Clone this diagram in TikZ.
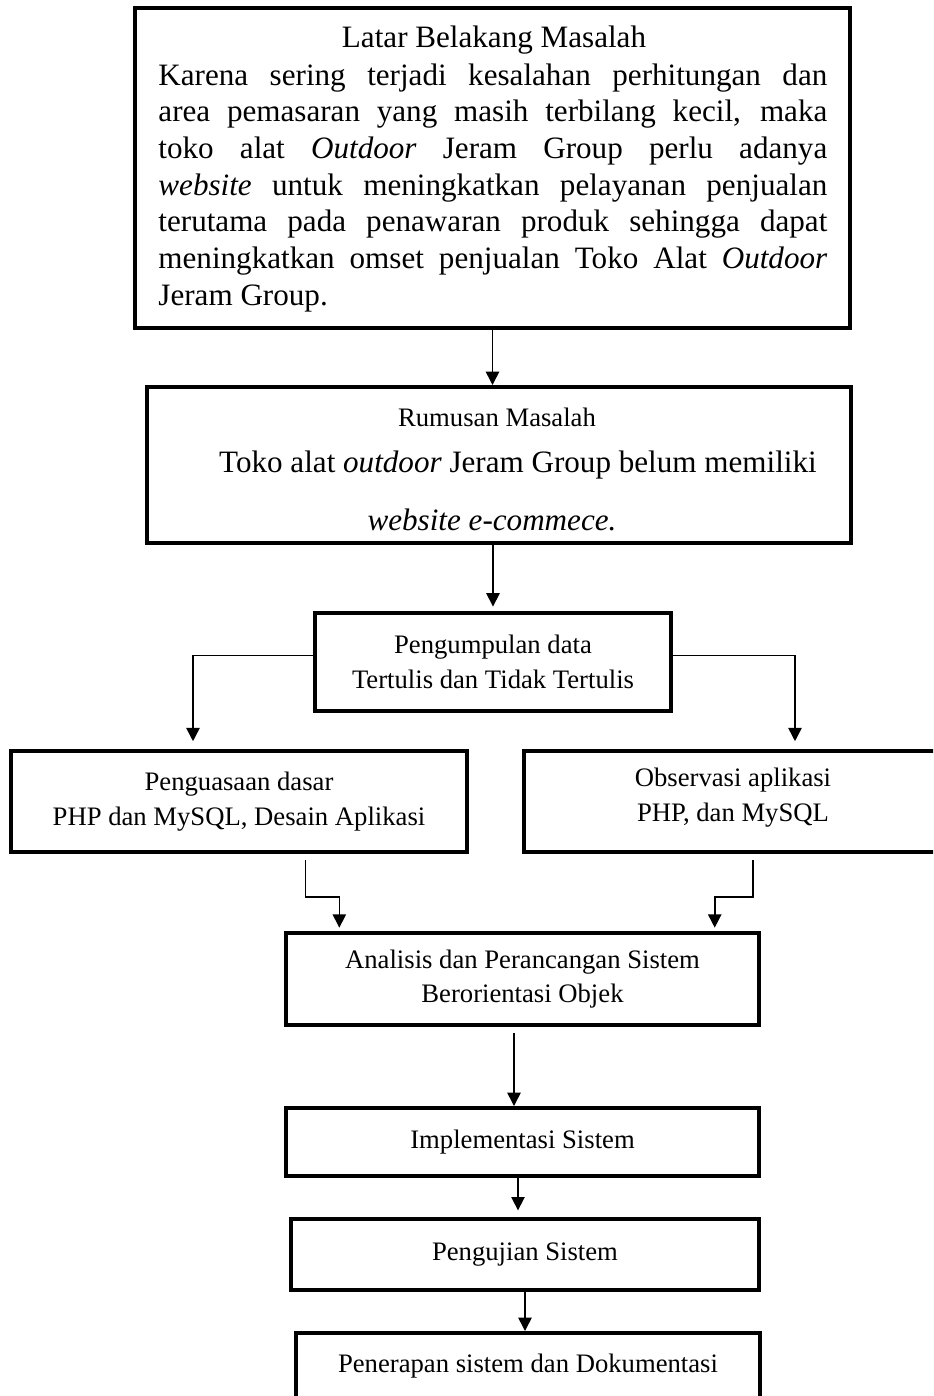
\documentclass[tikz,border=0pt]{standalone}
\usepackage{fontspec}
\setmainfont{Liberation Serif}
\usetikzlibrary{arrows.meta,calc}
\tikzset{
  kotak/.style={draw, line width=1.8pt, inner sep=0pt, align=center,
    font=\fontsize{12}{15.5}\selectfont},
  ukuran/.style 2 args={minimum width=#1*0.45pt, minimum height=#2*0.45pt},
  panah/.style={-{Triangle[width=6pt,length=6pt]}, line width=0.7pt},
  teks/.style={inner sep=0pt},
}

\begin{document}
\begin{tikzpicture}[x=0.45pt,y=-0.45pt]
\path[use as bounding box] (0,0) rectangle (933,1396);
\clip (0,0) rectangle (933,1396);

% kotak
\node[kotak, ukuran={715}{320}] (latar) at (492.5,168) {};
\node[kotak, ukuran={704}{156}] (rumusan) at (499,465) {};
\node[kotak, ukuran={356}{98}] (kumpul) at (493,662) {Pengumpulan data\\Tertulis dan Tidak Tertulis};
\node[kotak, ukuran={456}{101}] (kuasa) at (239,801.5) {Penguasaan dasar\\PHP dan MySQL, Desain Aplikasi};
\node[kotak, ukuran={416}{101}] (observasi) at (732,801.5) {};
\node[teks, font=\fontsize{12}{15.5}\selectfont, align=center] (observasiteks) at (733,797.5) {Observasi aplikasi\\PHP, dan MySQL};
\node[kotak, ukuran={473}{92}] (analisis) at (522.5,979) {Analisis dan Perancangan Sistem\\Berorientasi Objek};
\node[kotak, ukuran={473}{68}] (implementasi) at (522.5,1142) {Implementasi Sistem};
\node[kotak, ukuran={468}{71}] (pengujian) at (525,1254.5) {Pengujian Sistem};
\node[kotak, ukuran={464}{67}] (penerapan) at (528,1366.5) {Penerapan sistem dan Dokumentasi};

% teks latar belakang
\node[teks, font=\fontsize{14}{16.5}\selectfont] (latarjudul) at (494,40) {Latar Belakang Masalah};
\node[teks, anchor=north west, text width=301pt, align=justify,
  font=\fontsize{14}{16.5}\selectfont] (latarisi) at (158,63)
  {Karena sering terjadi kesalahan perhitungan dan\linebreak
   area pemasaran yang masih terbilang kecil, maka\linebreak
   toko alat \textit{Outdoor} Jeram Group perlu adanya\linebreak
   \textit{website} untuk meningkatkan pelayanan penjualan\linebreak
   terutama pada penawaran produk sehingga dapat\linebreak
   meningkatkan omset penjualan Toko Alat \textit{Outdoor}\linebreak
   Jeram Group.};

% teks rumusan masalah
\node[teks, font=\fontsize{12}{14}\selectfont] (rumusanjudul) at (497,417) {Rumusan Masalah};
\node[teks, font=\fontsize{14}{16.5}\selectfont] (rumusanisi) at (518,465) {Toko alat \textit{outdoor} Jeram Group belum memiliki};
\node[teks, font=\fontsize{14}{16.5}\selectfont] (rumusanisi2) at (492,520) {\textit{website e-commece.}};

% panah
\draw[panah] (latar.south) -- (latar.south |- rumusan.north);
\draw[panah, shorten >=2pt] (rumusan.south -| kumpul.north) -- (kumpul.north);
\draw[panah, shorten >=3.5pt] ([yshift=3pt]kumpul.west) -| ($(kuasa.north west)!.4!(kuasa.north east)$);
\draw[panah, shorten >=3.5pt] ([yshift=3pt]kumpul.east) -| ($(observasi.north west)!.65!(observasi.north east)$);
\draw[panah, shorten >=1.5pt] ($(kuasa.south west)!.645!(kuasa.south east)+(0,6)$) -- ++(0,37)
  -| ($(analisis.north west)!.116!(analisis.north east)$);
\draw[panah, shorten >=1.5pt] ($(observasi.south west)!.55!(observasi.south east)+(0,6)$) -- ++(0,37)
  -| ($(analisis.north west)!.903!(analisis.north east)$);
\draw[panah] ($(analisis.south)+(-8.5,6)$) -- ($(analisis.south |- implementasi.north)+(-8.5,0)$);
\draw[panah, shorten >=3pt] ($(implementasi.south)+(-4.5,0)$) -- ($(implementasi.south |- pengujian.north)+(-4.5,0)$);
\draw[panah] (pengujian.south) -- (pengujian.south |- penerapan.north);
\end{tikzpicture}
\end{document}
